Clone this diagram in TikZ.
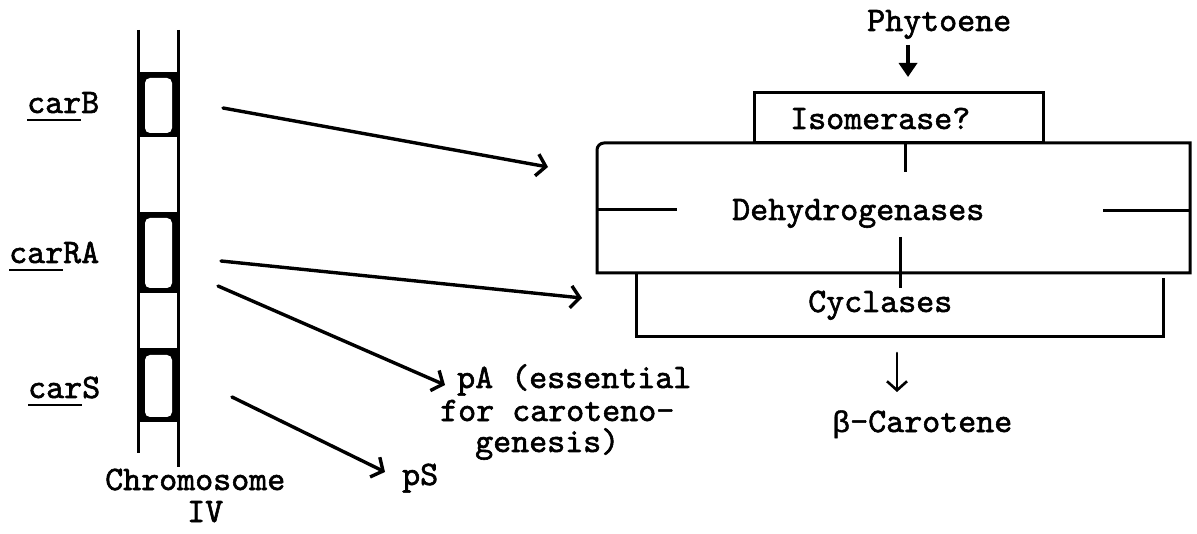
\documentclass[tikz,border=0pt]{standalone}
\usepackage{fontspec}
\newfontfamily\betafont{Liberation Mono}[FakeBold=1.2]
\newfontfamily\twf{lmmono10-regular.otf}[FakeBold=1.7]
\usetikzlibrary{arrows.meta}
\newcommand\myul[1]{\setbox0\hbox{#1}\rlap{\rule[-8.5pt]{\wd0}{2.6pt}}\box0}
\newcommand\twfont{\twf\fontsize{34.3}{36}\selectfont}
\begin{document}
\begin{tikzpicture}[x=1pt,y=-1pt,
  txt/.style={font=\twfont, inner sep=0pt, anchor=base west},
  ln/.style={line width=3pt},
  geneout/.style={fill=black, inner sep=0pt, minimum width=40pt},
  genein/.style={fill=white, rounded corners=5pt, inner sep=0pt, minimum width=27pt},
  conn/.style={line width=3.4pt, line cap=round, -{Straight Barb[length=9pt,width=22pt]}},
  thinconn/.style={line width=2.6pt, line cap=round, -{Straight Barb[length=9pt,width=20pt]}},
]
\useasboundingbox (0,0) rectangle (1197,534);

% chromosome
\draw[ln] (138,30) -- (138,453);
\draw[ln] (178,30) -- (178,467);
\node[geneout, minimum height=65pt] (gB)  at (158,104.5) {};
\node[genein,  minimum height=55pt] (gBi) at (158.5,105.5) {};
\node[geneout, minimum height=81pt] (gRA)  at (158,252.5) {};
\node[genein,  minimum height=70pt] (gRAi) at (158.5,253) {};
\node[geneout, minimum height=74pt] (gS)  at (158,385) {};
\node[genein,  minimum height=62pt] (gSi) at (158.5,386) {};

% gene labels
\node[txt] (carB)  at (27,113) {\myul{car}B};
\node[txt] (carRA) at (9,263)  {\myul{car}RA};
\node[txt] (carS)  at (28,398) {\myul{car}S};
\node[txt] (chr) at (105,490) {Chromosome};
\node[txt] (chrIV) at (187,522) {IV};

% products
\node[txt] (pA1) at (457,388) {pA (essential};
\node[txt] (pA2) at (440,421) {for caroteno-};
\node[txt] (pA3) at (475,452) {genesis)};
\node[txt] (pS)  at (402,485) {pS};

% pathway
\node[txt] (phy) at (867,31) {Phytoene};
\node[draw, ln, inner sep=0pt, minimum width=289pt, minimum height=50pt] (iso) at (898.5,118) {};
\node[txt] (isot) at (790,129) {Isomerase?};
\draw[ln] (597,273) -- (597,150) arc[start angle=180, end angle=90, radius=7pt] -- (1190,143) -- (1190,273) -- cycle;
\node[txt] (deht) at (732,220) {Dehydrogenases};
\draw[ln] (905,143) -- (905,172);
\draw[ln] (597,210) -- (677,210);
\draw[ln] (1103,211) -- (1190,211);
\draw[ln] (900,237) -- (900,288);
\draw[ln] (636,273) -- (636,337) -- (1163,337) -- (1163,278);
\node[txt] (cyc) at (808,312) {Cyclases};
\node[txt] (bcar) at (832,432) {{\betafont\fontsize{30}{36}\selectfont β}-Carotene};

% connectors
\coordinate (carBo)  at (223,108);
\coordinate (carRAo) at (221,261);
\coordinate (carRAp) at (218,286);
\coordinate (carSo)  at (232,397);
\coordinate (tipB)   at (548,167);
\coordinate (tipRA)  at (582,298);
\coordinate (tipA)   at (445,385);
\coordinate (tipS)   at (385,472);
\draw[conn] (carBo) -- (tipB);
\draw[conn] (carRAo) -- (tipRA);
\draw[conn] (carRAp) -- (tipA);
\draw[conn] (carSo) -- (tipS);

\coordinate (phyA) at (908,45);
\coordinate (phyB) at (908,77);
\draw[line width=3.6pt, -{Triangle[length=14pt,width=18pt]}] (phyA) -- (phyB);
\coordinate (bA) at (897,353);
\coordinate (bB) at (897,392);
\draw[thinconn] (bA) -- (bB);
\end{tikzpicture}
\end{document}
